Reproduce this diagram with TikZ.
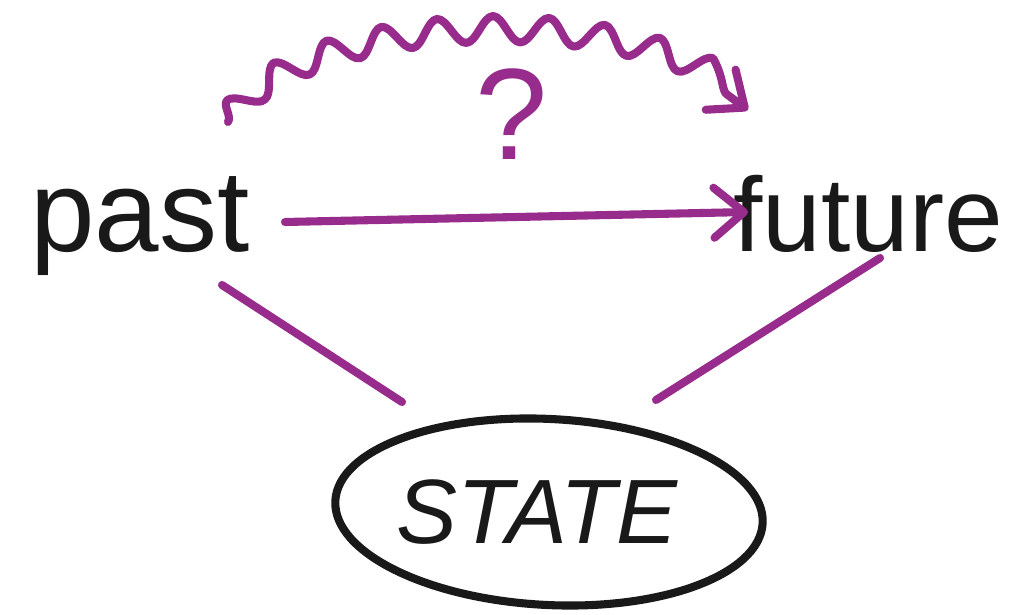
\documentclass[tikz,border=0pt]{standalone}
\usepackage{fontspec}
\setmainfont{Liberation Sans}
\usetikzlibrary{arrows.meta,decorations.pathmorphing,shapes.geometric,calc}
\definecolor{hpurple}{RGB}{152,44,140}
\definecolor{hblack}{RGB}{25,25,25}
\tikzset{
  word/.style={text=hblack, font=\fontsize{66}{70}\selectfont, inner sep=0pt, anchor=base},
  link/.style={draw=hpurple, line width=4.6pt, line cap=round, line join=round},
  tipstyle/.style={-{Straight Barb[length=0.6cm, width=1.0cm, line width=4.6pt, round]}},
  statebox/.style={ellipse, draw=hblack, line width=4.6pt, minimum width=8.56cm, minimum height=3.72cm, rotate=-3},
}
\begin{document}
\begin{tikzpicture}[x=0.02cm, y=-0.02cm]
\useasboundingbox (0,0) rectangle (1036,615);
\node[word] (past) at (140,252) {past};
\node[word, font=\fontsize{60}{64}\selectfont] (future) at (868,252) {future};
\node[statebox] (state) at (549,512) {};
\node[text=hblack, font=\fontsize{52}{56}\itshape\selectfont, inner sep=0pt] (statelabel) at (537,512) {STATE};
\node[text=hpurple, font=\fontsize{74}{78}\selectfont, inner sep=0pt] (q) at (512,114) {?};
% named connector ends
\coordinate (pastR) at ($(past.base)+(145,-30)$);
\coordinate (futL) at ($(future.base)+(-120,-40)$);
\coordinate (pastTop) at ($(past.base)+(88,-130)$);
\coordinate (futTop) at ($(future.base)+(-120,-142)$);
\coordinate (pastLow) at ($(past.base)+(82,33)$);
\coordinate (futLow) at ($(future.base)+(12,6)$);
\coordinate (stateL) at ($(state.center)+(-147,-110)$);
\coordinate (stateR) at ($(state.center)+(107,-112)$);
\draw[link, tipstyle] (pastR) -- (futL);
\draw[link, tipstyle, decorate, decoration={snake, amplitude=0.26cm, segment length=1.1cm, post length=0.3cm}]
  (pastTop) .. controls (290,30) and (610,0) .. (futTop);
\draw[link] (pastLow) -- (stateL);
\draw[link] (futLow) -- (stateR);
\end{tikzpicture}
\end{document}
